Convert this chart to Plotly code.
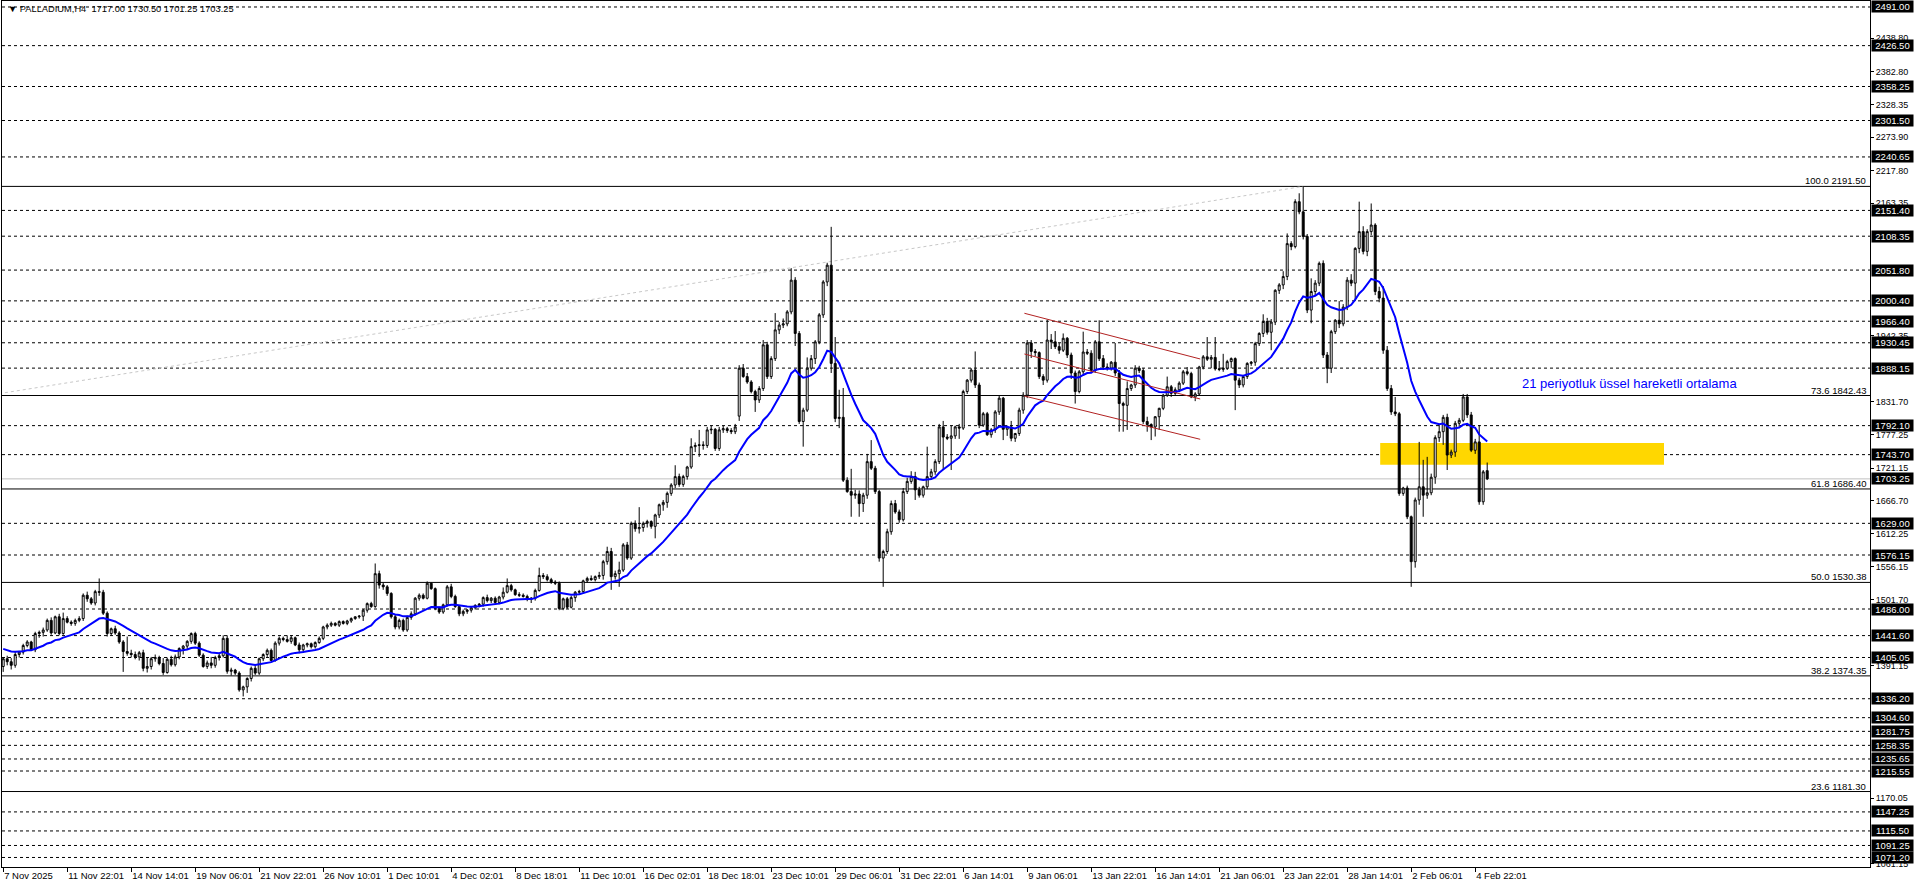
import plotly.graph_objects as go

# ---------------- data ----------------
opens = [
1390,1403,1398,1392,1410,1414,1425,1431,1418,1445,
1447,1451,1467,1446,1473,1445,1470,1464,1462,1467,
1470,1509,1503,1496,1515,1514,1479,1445,1453,1446,
1431,1415,1412,1410,1406,1413,1387,1390,1403,1405,
1395,1380,1402,1393,1406,1420,1424,1432,1445,1429,
1409,1390,1396,1392,1405,1408,1437,1382,1384,1379,
1351,1356,1370,1387,1379,1403,1410,1417,1400,1429,
1437,1435,1432,1438,1426,1418,1426,1428,1423,1430,
1437,1456,1459,1462,1459,1465,1462,1466,1470,1473,
1474,1484,1495,1490,1545,1526,1523,1512,1473,1456,
1467,1451,1472,1478,1504,1509,1504,1529,1520,1487,
1481,1493,1523,1507,1490,1478,1482,1484,1488,1492,
1494,1505,1500,1504,1497,1506,1514,1525,1518,1510,
1509,1507,1502,1504,1517,1542,1540,1535,1531,1529,
1487,1503,1489,1505,1514,1515,1533,1537,1535,1540,
1542,1565,1582,1540,1545,1551,1593,1571,1629,1620,
1622,1629,1632,1624,1643,1660,1664,1679,1693,1707,
1694,1707,1723,1757,1759,1760,1759,1785,1786,1754,
1785,1787,1784,1782,1808,1888,1874,1865,1849,1835,
1854,1927,1874,1904,1952,1960,1962,1982,2035,1946,
1799,1818,1888,1904,1932,1977,2032,2060,1896,1804,
1806,1701,1682,1676,1678,1662,1676,1732,1721,1682,
1571,1582,1615,1662,1648,1635,1682,1699,1707,1685,
1676,1690,1707,1715,1732,1790,1773,1771,1775,1790,
1788,1849,1868,1885,1860,1793,1812,1777,1785,1815,
1838,1786,1790,1771,1779,1818,1843,1930,1916,1914,
1874,1868,1935,1932,1924,1918,1938,1910,1880,1849,
1882,1915,1913,1884,1932,1904,1890,1888,1898,1880,
1829,1826,1854,1860,1888,1884,1799,1794,1790,1807,
1821,1843,1857,1846,1852,1863,1882,1879,1840,1845,
1890,1907,1903,1906,1887,1886,1888,1899,1904,1868,
1860,1874,1896,1898,1929,1946,1966,1948,1965,2018,
2027,2041,2096,2091,2166,2149,2108,1985,2016,2030,
2063,1910,1888,1949,1968,1962,1990,2035,2030,2088,
2116,2083,2116,2127,2016,2005,1918,1854,1815,1812,
1679,1688,1640,1565,1668,1690,1676,1680,1706,1772,
1782,1806,1743,1748,1796,1801,1840,1810,1751,1765,
1665,1717]

highs = [
1405,1408,1404,1415,1416,1428,1434,1433,1448,1450,
1455,1470,1472,1475,1478,1480,1474,1467,1470,1474,
1512,1515,1506,1518,1537,1518,1482,1455,1458,1449,
1434,1440,1418,1415,1416,1418,1405,1406,1410,1408,
1404,1405,1408,1410,1422,1426,1434,1447,1448,1432,
1412,1400,1406,1408,1412,1442,1442,1388,1386,1382,
1358,1372,1390,1392,1405,1412,1420,1420,1432,1440,
1440,1442,1442,1440,1430,1428,1430,1430,1432,1440,
1458,1462,1465,1464,1467,1467,1468,1472,1474,1476,
1486,1497,1498,1562,1550,1530,1526,1514,1476,1470,
1470,1475,1482,1506,1512,1512,1532,1530,1522,1490,
1495,1526,1528,1510,1492,1485,1486,1490,1494,1496,
1507,1510,1506,1507,1508,1522,1537,1528,1520,1514,
1512,1510,1506,1520,1555,1546,1544,1538,1534,1532,
1505,1506,1508,1516,1518,1535,1540,1542,1542,1548,
1568,1590,1588,1550,1565,1596,1598,1632,1634,1656,
1632,1635,1634,1645,1662,1668,1682,1696,1726,1712,
1710,1725,1771,1764,1785,1766,1790,1792,1788,1790,
1792,1790,1788,1795,1893,1895,1880,1868,1852,1858,
1935,1932,1908,1980,1965,1971,1985,2055,2040,1950,
1822,1906,1910,1935,1980,2035,2064,2124,1940,1852,
1855,1706,1720,1685,1684,1680,1745,1768,1725,1685,
1585,1620,1667,1668,1652,1688,1705,1716,1715,1690,
1692,1757,1720,1736,1795,1800,1778,1792,1792,1795,
1852,1870,1888,1916,1864,1815,1815,1788,1818,1842,
1840,1792,1800,1780,1822,1848,1935,1935,1920,1916,
1878,1969,1945,1950,1930,1946,1940,1914,1884,1885,
1949,1920,1918,1935,1968,1910,1896,1900,1930,1885,
1832,1866,1862,1893,1892,1888,1807,1796,1808,1822,
1845,1874,1860,1856,1866,1885,1890,1882,1848,1892,
1910,1940,1910,1940,1900,1912,1902,1906,1906,1872,
1876,1898,1900,1932,1948,1978,1972,1970,2020,2030,
2050,2113,2100,2170,2180,2191.5,2112,2038,2035,2066,
2068,1915,1952,1970,2000,1995,2040,2045,2090,2166,
2125,2120,2163,2130,2024,2025,1925,1860,1840,1815,
1690,1692,1642,1672,1765,1735,1740,1712,1776,1795,
1810,1812,1752,1800,1805,1845,1845,1815,1770,1793,
1718,1730.5]

lows = [
1381,1392,1385,1388,1405,1410,1422,1416,1414,1438,
1440,1448,1443,1444,1442,1443,1462,1458,1458,1464,
1466,1498,1493,1492,1508,1476,1440,1442,1443,1428,
1381,1408,1405,1402,1400,1382,1380,1385,1398,1392,
1376,1378,1390,1390,1402,1410,1418,1428,1426,1406,
1388,1386,1387,1388,1400,1405,1378,1375,1376,1348,
1340,1346,1365,1376,1376,1399,1406,1398,1398,1425,
1432,1430,1428,1424,1412,1414,1422,1420,1420,1428,
1434,1452,1456,1457,1456,1460,1459,1463,1468,1470,
1466,1480,1488,1488,1520,1518,1508,1470,1452,1452,
1448,1448,1468,1475,1500,1502,1502,1518,1484,1478,
1478,1490,1504,1488,1474,1474,1478,1480,1485,1489,
1490,1497,1496,1494,1494,1502,1512,1515,1508,1506,
1505,1499,1496,1500,1515,1536,1532,1528,1526,1484,
1484,1486,1487,1498,1510,1512,1530,1533,1532,1536,
1535,1560,1518,1535,1523,1548,1568,1568,1615,1612,
1615,1622,1620,1604,1638,1650,1655,1675,1688,1690,
1690,1702,1720,1748,1740,1752,1755,1778,1750,1750,
1780,1780,1778,1778,1800,1872,1862,1846,1815,1830,
1850,1870,1870,1900,1945,1955,1958,1978,1925,1795,
1757,1815,1884,1895,1928,1972,2025,1880,1798,1788,
1698,1680,1640,1670,1640,1648,1670,1718,1678,1565,
1523,1578,1610,1645,1630,1632,1678,1695,1668,1672,
1672,1686,1702,1710,1728,1718,1768,1718,1770,1770,
1785,1845,1864,1855,1788,1790,1775,1772,1780,1810,
1768,1775,1766,1765,1775,1812,1838,1905,1908,1870,
1860,1864,1920,1920,1912,1915,1905,1870,1829,1846,
1878,1910,1880,1880,1900,1885,1884,1884,1875,1782,
1782,1785,1850,1855,1880,1795,1782,1768,1774,1785,
1818,1840,1840,1842,1848,1860,1876,1838,1833,1842,
1886,1900,1888,1884,1883,1882,1885,1888,1818,1855,
1856,1870,1892,1892,1925,1940,1944,1918,1960,2012,
2020,2035,2085,2088,2145,2103,1980,1963,2010,2025,
1905,1863,1880,1945,1955,1958,1985,2025,2000,2080,
2078,2075,2110,2010,1998,1912,1850,1810,1808,1675,
1675,1636,1523,1555,1660,1640,1670,1676,1695,1765,
1760,1718,1738,1740,1790,1798,1805,1748,1745,1660,
1660,1701.25]

closes = [
1403,1398,1392,1410,1414,1425,1431,1418,1445,1447,
1451,1467,1446,1473,1445,1470,1464,1462,1467,1470,
1509,1503,1496,1515,1514,1479,1445,1453,1446,1431,
1415,1412,1410,1406,1413,1387,1390,1403,1405,1395,
1380,1402,1393,1406,1420,1424,1432,1445,1429,1409,
1390,1396,1392,1405,1408,1437,1382,1384,1379,1351,
1356,1370,1387,1379,1403,1410,1417,1400,1429,1437,
1435,1432,1438,1426,1418,1426,1428,1423,1430,1437,
1456,1459,1462,1459,1465,1462,1466,1470,1473,1474,
1484,1495,1490,1545,1526,1523,1512,1473,1456,1467,
1451,1472,1478,1504,1509,1504,1529,1520,1487,1481,
1493,1523,1507,1490,1478,1482,1484,1488,1492,1494,
1505,1500,1504,1497,1506,1514,1525,1518,1510,1509,
1507,1502,1504,1517,1542,1540,1535,1531,1529,1487,
1503,1489,1505,1514,1515,1533,1537,1535,1540,1542,
1565,1582,1540,1545,1551,1593,1571,1629,1620,1622,
1629,1632,1624,1643,1660,1664,1679,1693,1707,1694,
1707,1723,1757,1759,1760,1759,1785,1786,1754,1785,
1787,1784,1782,1790,1888,1874,1865,1849,1835,1854,
1927,1874,1904,1952,1960,1962,1982,2035,1946,1799,
1818,1888,1904,1932,1977,2032,2060,1896,1804,1806,
1701,1682,1676,1678,1662,1676,1732,1721,1682,1571,
1582,1615,1662,1648,1635,1682,1699,1707,1685,1676,
1690,1707,1715,1732,1790,1773,1771,1775,1790,1788,
1849,1868,1885,1860,1793,1812,1777,1785,1815,1838,
1786,1790,1771,1779,1818,1843,1930,1916,1914,1874,
1868,1935,1932,1924,1918,1938,1910,1880,1849,1882,
1915,1913,1884,1932,1904,1890,1888,1898,1880,1829,
1826,1854,1860,1888,1884,1799,1794,1790,1807,1821,
1843,1857,1846,1852,1863,1882,1879,1840,1845,1890,
1907,1903,1906,1887,1886,1888,1899,1904,1868,1860,
1874,1896,1898,1929,1946,1966,1948,1965,2018,2027,
2041,2096,2091,2166,2149,2108,1985,2016,2030,2063,
1910,1888,1949,1968,1962,1990,2035,2030,2088,2116,
2083,2116,2127,2016,2005,1918,1854,1815,1812,1679,
1688,1640,1565,1668,1690,1676,1680,1706,1772,1782,
1806,1743,1748,1796,1801,1840,1810,1751,1765,1665,
1715,1703.25]

n_bars = len(closes)
assert len(opens) == len(highs) == len(lows) == n_bars, (len(opens), len(highs), len(lows), n_bars)
bars = list(range(n_bars))

ema_period = 21
ema_seed = 1421.0

label_bars = [0,16,32,48,64,80,96,112,128,144,160,176,192,208,224,240,256,272,288,304,320,336,352,368]
label_texts = ["7 Nov 2025","11 Nov 22:01","14 Nov 14:01","19 Nov 06:01","21 Nov 22:01","26 Nov 10:01",
               "1 Dec 10:01","4 Dec 02:01","8 Dec 18:01","11 Dec 10:01","16 Dec 02:01","18 Dec 18:01",
               "23 Dec 10:01","29 Dec 06:01","31 Dec 22:01","6 Jan 14:01","9 Jan 06:01","13 Jan 22:01",
               "16 Jan 14:01","21 Jan 06:01","23 Jan 22:01","28 Jan 14:01","2 Feb 06:01","4 Feb 22:01"]

# price-scale labels that stay (at least partly) visible next to the boxed levels
price_ticks = [2438.80,2382.80,2328.35,2273.90,2217.80,2163.35,1942.35,
               1831.70,1777.25,1721.15,1666.70,1612.25,1556.15,1501.70,1391.15,
               1170.05,1061.15]

level_prices = [2491.00,2426.50,2358.25,2301.50,2240.65,2151.40,2108.35,2051.80,2000.40,1966.40,
                1930.45,1888.15,1792.10,1743.70,1629.00,1576.15,1486.00,1441.60,1405.05,1336.20,
                1304.60,1281.75,1258.35,1235.65,1215.55,1147.25,1115.50,1091.25,1071.20]

bid_price = 1703.25

fib_ratios = [100.0, 73.6, 61.8, 50.0, 38.2, 23.6]
fib_prices = [2191.50, 1842.43, 1686.40, 1530.38, 1374.35, 1181.30]
fib_anchor_bars = [-921, 325]
fib_anchor_prices = [869.25, 2191.50]

channel_bars = [255.3, 299.25]
channel_top = [1979.7, 1903.4]
channel_mid = [1911.7, 1836.6]
channel_bot = [1841.6, 1769.3]

zone_bars = [344.25, 415.2]
zone_prices = [1727.0, 1763.0]

note_bar = 379.25
note_price = 1862.8
note_text = "21 periyotluk üssel hareketli ortalama"

header_text = "▼ PALLADIUM,H4  1717.00 1730.50 1701.25 1703.25"

y_range = [1055.3, 2501.0]
x_range = [-0.3, 466.7]

# ---------------- indicator ----------------
alpha = 2.0 / (ema_period + 1)
ema = []
e = ema_seed
for c in closes:
    e = e + alpha * (c - e)
    ema.append(e)

FONT = "Liberation Sans, Arial, sans-serif"

fig = go.Figure()
fig.add_trace(go.Candlestick(
    x=bars, open=opens, high=highs, low=lows, close=closes,
    increasing=dict(line=dict(color="black", width=1), fillcolor="white"),
    decreasing=dict(line=dict(color="black", width=1), fillcolor="black"),
    whiskerwidth=0, hoverinfo="skip", showlegend=False))
fig.add_trace(go.Scatter(x=bars, y=ema, mode="lines",
                         line=dict(color="#0000FF", width=2),
                         hoverinfo="skip", showlegend=False))

shapes = []
for p in level_prices:
    shapes.append(dict(type="line", xref="paper", x0=0, x1=1, yref="y", y0=p, y1=p,
                       line=dict(color="black", width=1, dash="3px,3px"), layer="below"))
for p in fib_prices:
    shapes.append(dict(type="line", xref="paper", x0=0, x1=1, yref="y", y0=p, y1=p,
                       line=dict(color="black", width=1), layer="below"))
shapes.append(dict(type="line", xref="paper", x0=0, x1=1, yref="y", y0=bid_price, y1=bid_price,
                   line=dict(color="#C0C0C0", width=1), layer="below"))
shapes.append(dict(type="line", xref="x", yref="y",
                   x0=fib_anchor_bars[0], y0=fib_anchor_prices[0],
                   x1=fib_anchor_bars[1], y1=fib_anchor_prices[1],
                   line=dict(color="#C8C8C8", width=1, dash="3px,3px"), layer="below"))
for ch in (channel_top, channel_mid, channel_bot):
    shapes.append(dict(type="line", xref="x", yref="y",
                       x0=channel_bars[0], y0=ch[0], x1=channel_bars[1], y1=ch[1],
                       line=dict(color="#B22222", width=1), layer="above"))
shapes.append(dict(type="rect", xref="x", yref="y",
                   x0=zone_bars[0], x1=zone_bars[1], y0=zone_prices[0], y1=zone_prices[1],
                   fillcolor="#FFD700", line=dict(width=0), layer="below"))

annotations = []
annotations.append(dict(xref="paper", yref="paper", x=0, y=1, xanchor="left", yanchor="top",
                        xshift=4, yshift=-1, text=header_text, showarrow=False,
                        font=dict(family=FONT, size=9.3, color="black")))
for r, p in zip(fib_ratios, fib_prices):
    annotations.append(dict(xref="paper", yref="y", x=1, y=p, xanchor="right", yanchor="bottom",
                            xshift=-2, yshift=-2, text=f"{r:.1f} {p:.2f}", showarrow=False,
                            font=dict(family=FONT, size=9.5, color="black")))
for p in level_prices + [bid_price]:
    annotations.append(dict(xref="paper", yref="y", x=1, y=p, xanchor="left", yanchor="middle",
                            xshift=1, text=f"{p:.2f}", showarrow=False, bgcolor="black",
                            borderpad=0, width=41, height=11, align="center",
                            font=dict(family=FONT, size=9.5, color="white")))
annotations.append(dict(xref="x", yref="y", x=note_bar, y=note_price, xanchor="left",
                        yanchor="middle", text=note_text, showarrow=False,
                        font=dict(family=FONT, size=13, color="#0000FF")))

fig.update_layout(
    width=1916, height=888, autosize=False,
    margin=dict(l=2, r=46, t=1, b=21, pad=0),
    paper_bgcolor="white", plot_bgcolor="white",
    shapes=shapes, annotations=annotations,
    showlegend=False,
    xaxis=dict(range=x_range, showgrid=False, zeroline=False, showline=True, mirror=True,
               linecolor="black", linewidth=1, tickmode="array", tickvals=label_bars,
               ticktext=label_texts, ticks="outside", ticklen=4, tickcolor="black",
               ticklabelposition="outside right", tickangle=0, automargin=False,
               tickfont=dict(family=FONT, size=9.5, color="black"),
               rangeslider=dict(visible=False), fixedrange=True),
    yaxis=dict(range=y_range, side="right", showgrid=False, zeroline=False, showline=True,
               mirror=True, linecolor="black", linewidth=1, tickmode="array",
               tickvals=price_ticks, ticktext=[f"{v:.2f}" for v in price_ticks],
               ticks="outside", ticklen=3, tickcolor="black", automargin=False,
               tickfont=dict(family=FONT, size=9, color="black"), fixedrange=True),
)

fig.write_html("out.html", config={"displayModeBar": False},
               post_script="document.body.style.margin='0';document.body.style.overflow='hidden';")
